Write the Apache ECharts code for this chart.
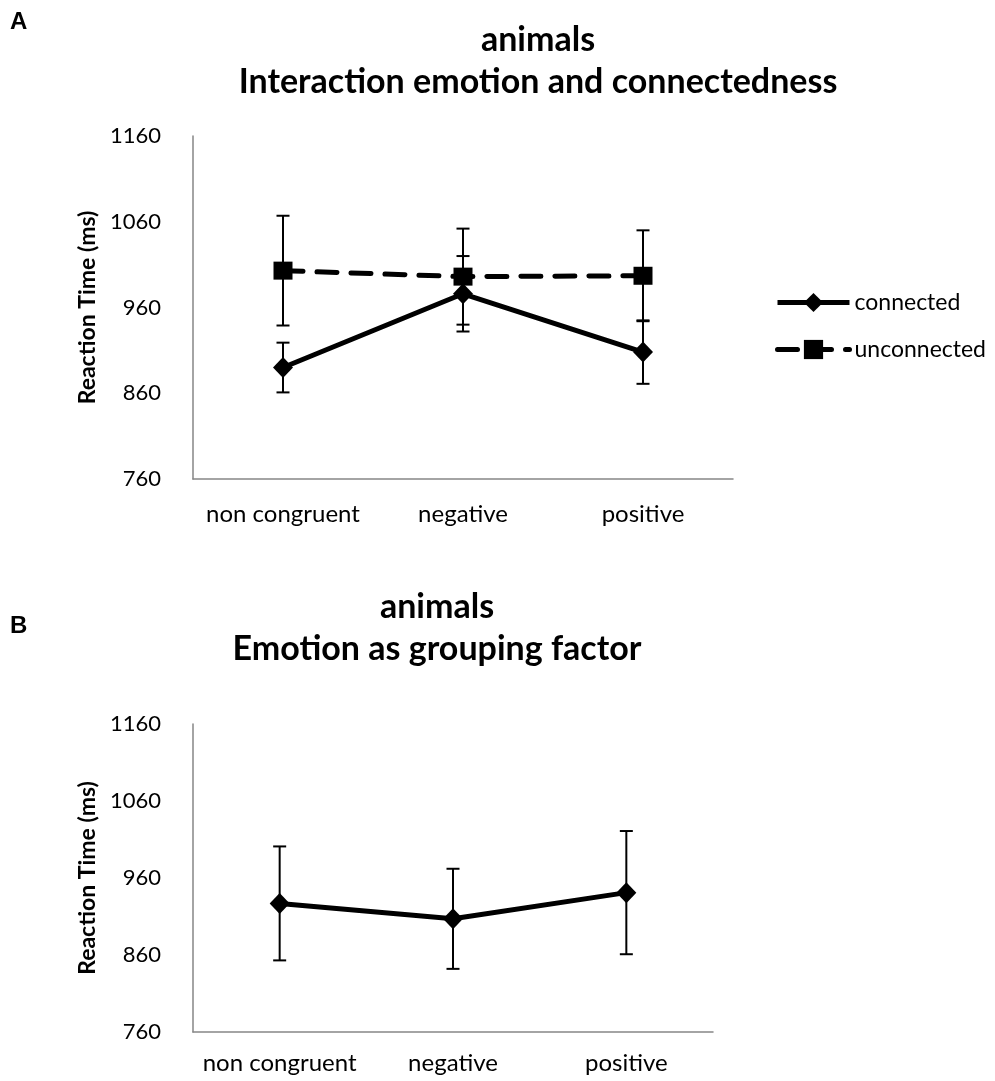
<!DOCTYPE html>
<html>
<head>
<meta charset="utf-8">
<script src="https://cdn.jsdelivr.net/npm/echarts@6/dist/echarts.min.js"></script>
<style>
html,body{margin:0;padding:0;background:#fff;}
#chart{width:995px;height:1081px;}
</style>
</head>
<body>
<div id="chart"></div>
<script>
// ---- data ----
const categories = ['non congruent', 'negative', 'positive'];
const connectedMean = [890, 976, 908];
const connectedErr = [29, 44, 37];
const unconnectedMean = [1003, 996, 997];
const unconnectedErr = [64, 56, 53];
const groupMean = [927, 907, 941];
const groupErr = [74, 65, 80];
const yMin = 760, yMax = 1160, yInterval = 100;
const titleA = ['animals', 'Interaction emotion and connectedness'];
const titleB = ['animals', 'Emotion as grouping factor'];
const yName = 'Reaction Time (ms)';

const FONT = 'Lato';

function errData(means, errs) {
  return means.map((m, i) => [i, m, errs[i]]);
}
function errRender(params, api) {
  const i = api.value(0), m = api.value(1), e = api.value(2);
  const t = api.coord([i, m + e]);
  const b = api.coord([i, m - e]);
  const hw = 6.5;
  const st = { stroke: '#000', lineWidth: 2 };
  return {
    type: 'group',
    children: [
      { type: 'line', shape: { x1: t[0], y1: t[1], x2: b[0], y2: b[1] }, style: st },
      { type: 'line', shape: { x1: t[0] - hw, y1: t[1], x2: t[0] + hw, y2: t[1] }, style: st },
      { type: 'line', shape: { x1: b[0] - hw, y1: b[1], x2: b[0] + hw, y2: b[1] }, style: st }
    ]
  };
}

function xAxisCfg(gi, margin) {
  return {
    type: 'category', gridIndex: gi, data: categories, boundaryGap: true,
    axisLine: { lineStyle: { color: '#868686', width: 1.5 } },
    axisTick: { show: false },
    axisLabel: { color: '#000', fontSize: 24, fontFamily: FONT, margin: margin, interval: 0, hideOverlap: false }
  };
}
function yAxisCfg(gi) {
  return {
    type: 'value', gridIndex: gi, min: yMin, max: yMax, interval: yInterval,
    splitLine: { show: false },
    axisLine: { show: true, lineStyle: { color: '#868686', width: 1.5 } },
    axisTick: { show: false },
    axisLabel: { color: '#000', fontSize: 22, fontFamily: FONT, margin: 32,
      formatter: v => String(v) },
    name: yName, nameLocation: 'middle', nameRotate: 90, nameGap: 91,
    nameTextStyle: { color: '#000', fontSize: 23, fontWeight: 'bold', fontFamily: FONT }
  };
}

const chart = echarts.init(document.getElementById('chart'), null, { renderer: 'canvas' });
chart.setOption({
  backgroundColor: '#fff',
  animation: false,
  title: [
    { text: titleA.join('\n'), left: 533, top: 14, textAlign: 'center',
      textStyle: { fontSize: 34, fontWeight: 'bold', fontFamily: FONT, color: '#000', lineHeight: 42 } },
    { text: titleB.join('\n'), left: 432, top: 581, textAlign: 'center',
      textStyle: { fontSize: 34, fontWeight: 'bold', fontFamily: FONT, color: '#000', lineHeight: 42 } }
  ],
  graphic: [
    { type: 'text', left: 10, top: 10, style: { text: 'A', fontSize: 24, fontWeight: 'bold', fontFamily: 'Liberation Sans', fill: '#000' } },
    { type: 'text', left: 10, top: 614, style: { text: 'B', fontSize: 24, fontWeight: 'bold', fontFamily: 'Liberation Sans', fill: '#000' } }
  ],
  legend: {
    data: ['connected', 'unconnected'],
    orient: 'vertical', left: 770, top: 286,
    itemWidth: 72, itemHeight: 24, itemGap: 24,
    lineStyle: { width: 5 },
    textStyle: { color: '#000', fontSize: 23, fontFamily: FONT },
    selectedMode: false
  },
  grid: [
    { left: 193, top: 136, width: 540, height: 343, containLabel: false },
    { left: 193, top: 724, width: 520, height: 308, containLabel: false }
  ],
  xAxis: [xAxisCfg(0, 23), xAxisCfg(1, 19)],
  yAxis: [yAxisCfg(0), yAxisCfg(1)],
  series: [
    { name: 'connected err', type: 'custom', xAxisIndex: 0, yAxisIndex: 0, z: 1,
      renderItem: errRender, data: errData(connectedMean, connectedErr), encode: { x: 0, y: 1 } },
    { name: 'unconnected err', type: 'custom', xAxisIndex: 0, yAxisIndex: 0, z: 1,
      renderItem: errRender, data: errData(unconnectedMean, unconnectedErr), encode: { x: 0, y: 1 } },
    { name: 'group err', type: 'custom', xAxisIndex: 1, yAxisIndex: 1, z: 1,
      renderItem: errRender, data: errData(groupMean, groupErr), encode: { x: 0, y: 1 } },
    { name: 'unconnected', type: 'line', xAxisIndex: 0, yAxisIndex: 0, z: 3,
      data: unconnectedMean, symbol: 'rect', symbolSize: [19, 18], showAllSymbol: true,
      lineStyle: { color: '#000', width: 5, type: [20, 14], cap: 'round' },
      itemStyle: { color: '#000' } },
    { name: 'connected', type: 'line', xAxisIndex: 0, yAxisIndex: 0, z: 4,
      data: connectedMean, symbol: 'diamond', symbolSize: [20, 21], showAllSymbol: true,
      lineStyle: { color: '#000', width: 5 },
      itemStyle: { color: '#000' } },
    { name: 'group', type: 'line', xAxisIndex: 1, yAxisIndex: 1, z: 4,
      data: groupMean, symbol: 'diamond', symbolSize: [20, 21], showAllSymbol: true,
      lineStyle: { color: '#000', width: 5 },
      itemStyle: { color: '#000' } }
  ]
});
</script>
</body>
</html>
